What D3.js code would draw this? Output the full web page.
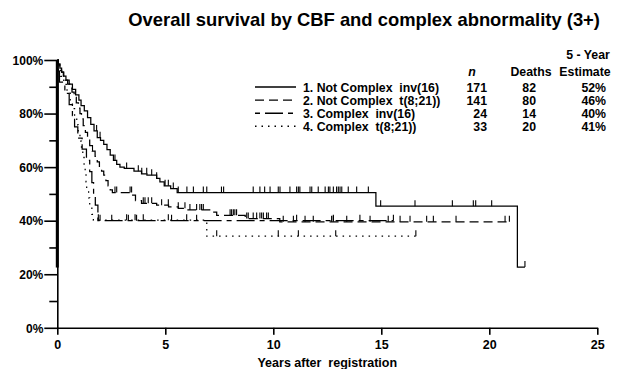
<!DOCTYPE html>
<html>
<head>
<meta charset="utf-8">
<script src="https://cdn.jsdelivr.net/npm/d3@7"></script>
<style>
body { margin: 0; background: #fff; }
text { font-family: "Liberation Sans", Arial, Helvetica, sans-serif; font-weight: bold; fill: #000; white-space: pre; }
</style>
</head>
<body>
<div id="chart-area"></div>
<script>
// survival data (years, % surviving)
var c1Times = [0.05, 0.12, 0.2, 0.3, 0.4, 0.55, 0.7, 0.85, 1.0, 1.1, 1.25, 1.4, 1.55, 1.7, 1.85, 2.0, 2.15, 2.3, 2.45, 2.6, 2.75, 2.9, 3.1, 3.55, 3.9, 4.15, 4.6, 4.75, 4.95, 5.25, 5.55, 14.75, 21.3];
var c1Surv = [98.5, 97, 95.5, 94, 92.5, 91, 89, 87, 85, 83, 81, 78.5, 76, 73.5, 71, 70, 68.5, 66.5, 64.5, 62.5, 61, 60, 59.5, 58.5, 57.5, 57, 55.8, 54.5, 53, 52, 50.5, 45.4, 22.7];
var c1Censor = [1.82, 1.98, 2.67, 3.21, 3.75, 3.91, 4.14, 4.37, 4.6, 4.99, 5.14, 5.37, 5.6, 6.0, 6.3, 6.76, 6.92, 7.6, 7.7, 9.07, 9.38, 9.6, 9.85, 10.23, 10.31, 10.77, 11.08, 11.16, 11.23, 11.7, 11.78, 12.08, 12.4, 12.55, 12.62, 12.78, 12.93, 13.01, 13.09, 13.17, 13.47, 13.86, 14.4, 14.97, 16.56, 18.29, 19.26, 19.37, 20.11, 21.65];
var c1End = 21.65;

var c2Times = [0.05, 0.12, 0.2, 0.28, 0.38, 0.48, 0.58, 0.68, 0.78, 0.88, 0.98, 1.05, 1.12, 1.2, 1.3, 1.4, 1.5, 1.62, 1.75, 1.85, 1.95, 2.05, 2.15, 2.25, 2.35, 2.45, 2.55, 3.45, 3.62, 3.9, 4.6, 5.15, 5.6, 5.95, 7.2, 7.38, 8.7, 10.3];
var c2Surv = [98.5, 97, 95.5, 94, 92.5, 91, 89.5, 88, 86, 84, 82, 80, 78, 75.5, 73, 70.5, 68, 66, 64, 62, 60, 58.5, 57, 55, 53, 51.5, 50.5, 49.5, 47.5, 46.5, 45.8, 45.2, 44.6, 44, 43.2, 42, 40.8, 39.6];
var c2Censor = [1.63, 2.67, 2.75, 3.37, 3.44, 3.98, 4.06, 4.21, 4.37, 4.83, 5.14, 5.6, 5.91, 6.14, 6.45, 6.6, 6.68, 6.76, 8.0, 8.07, 8.15, 8.22, 8.3, 8.77, 8.84, 9.07, 9.23, 9.38, 9.46, 9.54, 9.69, 9.77, 10.46, 10.93, 11.47, 11.85, 12.7, 12.78, 13.4, 14.48, 15.32, 15.87, 16.33, 17.1, 17.41, 18.46, 20.73, 20.93];
var c2End = 20.96;

var c3Times = [0.05, 0.1, 0.35, 0.55, 0.7, 0.8, 0.95, 1.15, 1.35, 1.5, 1.6, 1.68, 1.76, 1.88];
var c3Surv = [95.8, 91.7, 87.5, 83.3, 79.2, 75, 70.8, 66.7, 62.5, 58.3, 54.2, 50, 45.8, 40];
var c3Censor = [1.98, 2.52, 3.29, 3.67, 5.29, 6.45, 11.08, 12.78, 14.01, 15.56];
var c3End = 15.56;

var c4Times = [0.08, 0.15, 0.3, 0.45, 0.6, 0.7, 0.8, 0.9, 0.97, 1.05, 1.12, 1.18, 1.24, 1.29, 1.33, 1.36, 1.45, 1.5, 1.6, 1.67, 6.92];
var c4Surv = [97, 93.9, 90.9, 87.9, 84.8, 81.8, 78.8, 75.8, 72.7, 69.7, 66.7, 63.6, 60.6, 57.6, 54.5, 51.5, 48.5, 45.5, 42.4, 40.2, 34.2];
var c4Censor = [1.9, 3.21, 3.6, 3.98, 5.14, 5.99, 7.38, 10.23, 11.16, 12.89, 16.6];
var c4End = 16.6;

var groupLabels = ["1. Not Complex  inv(16)", "2. Not Complex  t(8;21))", "3. Complex  inv(16)", "4. Complex  t(8;21))"];
var groupN = [171, 141, 24, 33];
var groupDeaths = [82, 80, 14, 20];
var groupEstimate = ["52%", "46%", "40%", "41%"];
var dashes = [null, "9,5", "5,5,18,5", "1.5,5"];

var xTicks = [0, 5, 10, 15, 20, 25];
var yMajor = [0, 20, 40, 60, 80, 100];
var yMinor = [10, 30, 50, 70, 90];

var width = 617, height = 369;

var svg = d3.select("#chart-area")
	.append("svg")
	.attr("width", width)
	.attr("height", height);

var x = d3.scaleLinear().domain([0, 25]).range([57.3, 597.3]);
var y = d3.scaleLinear().domain([0, 100]).range([327.8, 60]);

// title
svg.append("text")
	.attr("x", 600)
	.attr("y", 26)
	.attr("text-anchor", "end")
	.attr("font-size", "18.4px")
	.text("Overall survival by CBF and complex abnormality (3+)");

// axes
var yAxisCall = d3.axisLeft(y)
	.tickValues(yMajor)
	.tickSize(13)
	.tickSizeOuter(0)
	.tickFormat(function(d) { return d + "%"; });

var yAxisGroup = svg.append("g")
	.attr("transform", "translate(" + x(0) + ",0)")
	.call(yAxisCall);

svg.append("g")
	.attr("transform", "translate(" + x(0) + ",0)")
	.call(d3.axisLeft(y).tickValues(yMinor).tickSize(8).tickSizeOuter(0).tickFormat(""))
	.select(".domain").remove();

var xAxisGroup = svg.append("g")
	.attr("transform", "translate(0," + y(0) + ")")
	.call(d3.axisBottom(x).tickValues(xTicks).tickSize(7).tickSizeOuter(0));

svg.selectAll(".domain, .tick line")
	.attr("stroke", "#000")
	.attr("stroke-width", 1.6);

yAxisGroup.selectAll("text")
	.attr("font-size", "12px")
	.attr("x", -14)
	.attr("dy", "0.35em");

xAxisGroup.selectAll("text")
	.attr("font-size", "12.5px")
	.attr("y", 12);

// thick part on the y axis
svg.append("line")
	.attr("x1", x(0)).attr("x2", x(0))
	.attr("y1", y(100)).attr("y2", y(22.5))
	.attr("stroke", "#000")
	.attr("stroke-width", 3);

svg.append("text")
	.attr("x", (x(0) + x(25)) / 2)
	.attr("y", 367)
	.attr("text-anchor", "middle")
	.attr("font-size", "12.5px")
	.text("Years after  registration");

// curves
var curves = [
	{times: c1Times, surv: c1Surv, censor: c1Censor, end: c1End},
	{times: c2Times, surv: c2Surv, censor: c2Censor, end: c2End},
	{times: c3Times, surv: c3Surv, censor: c3Censor, end: c3End},
	{times: c4Times, surv: c4Surv, censor: c4Censor, end: c4End}
];

var line = d3.line()
	.x(function(d) { return x(d[0]); })
	.y(function(d) { return y(d[1]); })
	.curve(d3.curveStepAfter);

function levelAt(c, t) {
	var s = 100;
	c.times.forEach(function(tt, i) { if (tt <= t) s = c.surv[i]; });
	return s;
}

curves.forEach(function(c, i) {
	var pts = [[0, 100]];
	c.times.forEach(function(t, j) { pts.push([t, c.surv[j]]); });
	pts.push([c.end, c.surv[c.surv.length - 1]]);

	var g = svg.append("g");
	g.append("path")
		.attr("d", line(pts))
		.attr("fill", "none")
		.attr("stroke", "#000")
		.attr("stroke-width", 1.25)
		.attr("stroke-dasharray", dashes[i]);

	g.selectAll("line")
		.data(c.censor)
		.enter()
		.append("line")
		.attr("x1", function(d) { return x(d); })
		.attr("x2", function(d) { return x(d); })
		.attr("y1", function(d) { return y(levelAt(c, d)); })
		.attr("y2", function(d) { return y(levelAt(c, d)) - 6; })
		.attr("stroke", "#000")
		.attr("stroke-width", 1.1);
});

// legend
var legend = svg.append("g");
var rowY = [91.5, 104.6, 117.7, 130.8];
var fs = "12.3px";

legend.append("text").attr("x", 588).attr("y", 59).attr("text-anchor", "middle").attr("font-size", fs).text("5 - Year");
legend.append("text").attr("x", 472).attr("y", 76).attr("text-anchor", "middle").attr("font-size", fs).attr("font-style", "italic").text("n");
legend.append("text").attr("x", 531).attr("y", 76).attr("text-anchor", "middle").attr("font-size", fs).text("Deaths");
legend.append("text").attr("x", 585).attr("y", 76).attr("text-anchor", "middle").attr("font-size", fs).text("Estimate");

groupLabels.forEach(function(lab, i) {
	var row = legend.append("g").attr("transform", "translate(0," + rowY[i] + ")");
	row.append("line")
		.attr("x1", 255).attr("x2", 296)
		.attr("y1", -4.5).attr("y2", -4.5)
		.attr("stroke", "#000")
		.attr("stroke-width", 1.4)
		.attr("stroke-dasharray", dashes[i]);
	row.append("text").attr("x", 303).attr("font-size", fs).text(lab);
	row.append("text").attr("x", 487).attr("text-anchor", "end").attr("font-size", fs).text(groupN[i]);
	row.append("text").attr("x", 536).attr("text-anchor", "end").attr("font-size", fs).text(groupDeaths[i]);
	row.append("text").attr("x", 606).attr("text-anchor", "end").attr("font-size", fs).text(groupEstimate[i]);
});
</script>
</body>
</html>
